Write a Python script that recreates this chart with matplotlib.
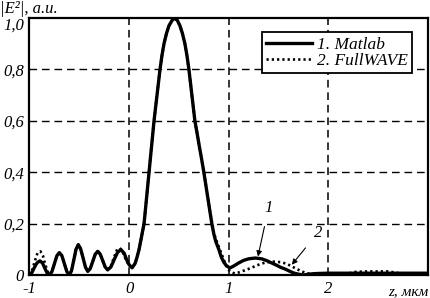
import matplotlib
matplotlib.use("Agg")
import matplotlib.pyplot as plt

plt.rcParams['lines.scale_dashes'] = False

# ---- data ----
x_matlab = [-1.0, -0.975, -0.95, -0.925, -0.896, -0.87, -0.848, -0.825, -0.80,
            -0.775, -0.75, -0.725, -0.70, -0.675, -0.65, -0.625, -0.60,
            -0.578, -0.555, -0.533, -0.51, -0.487, -0.462, -0.438, -0.415,
            -0.39, -0.365, -0.34, -0.315, -0.29, -0.265, -0.24, -0.216,
            -0.183, -0.15, -0.116, -0.083, -0.05, -0.02, 0.0,
            0.03, 0.06, 0.08, 0.10, 0.125, 0.15, 0.175, 0.20, 0.225, 0.25, 0.28, 0.31,
            0.33, 0.35, 0.375, 0.40, 0.43, 0.457, 0.485, 0.51, 0.535, 0.56, 0.58, 0.60,
            0.63, 0.66, 0.683, 0.705, 0.728, 0.75, 0.77, 0.79, 0.81, 0.83, 0.85, 0.87,
            0.90, 0.925, 0.95, 0.975, 1.0, 1.015,
            1.05, 1.10, 1.15, 1.20, 1.267, 1.33, 1.38, 1.43, 1.48, 1.52, 1.567, 1.61,
            1.65, 1.70, 1.75, 1.80, 1.85, 1.90, 2.00, 2.50, 3.00]
y_matlab = [0.0, 0.01, 0.03, 0.047, 0.055, 0.047, 0.028, 0.009, 0.0,
            0.013, 0.044, 0.075, 0.087, 0.075, 0.044, 0.013, 0.0,
            0.017, 0.059, 0.10, 0.118, 0.102, 0.066, 0.03, 0.014,
            0.025, 0.053, 0.081, 0.092, 0.081, 0.056, 0.031, 0.02,
            0.031, 0.06, 0.088, 0.099, 0.085, 0.055, 0.04,
            0.028, 0.045, 0.07, 0.10, 0.15, 0.20, 0.30, 0.40, 0.50, 0.60, 0.70, 0.80,
            0.855, 0.90, 0.94, 0.97, 0.99, 1.0, 0.99, 0.97, 0.94, 0.90, 0.855, 0.80,
            0.70, 0.60, 0.55, 0.50, 0.45, 0.40, 0.35, 0.30, 0.25, 0.20, 0.16, 0.13,
            0.10, 0.07, 0.05, 0.037, 0.03, 0.028,
            0.035, 0.047, 0.057, 0.063, 0.066, 0.063, 0.056, 0.047, 0.038, 0.03, 0.023, 0.015,
            0.008, 0.003, 0.0, 0.003, 0.005, 0.006, 0.007, 0.007, 0.007]

x_fullwave = [-1.0, -0.975, -0.95, -0.92, -0.89, -0.865, -0.845, -0.82, -0.80,
              -0.775, -0.75, -0.725, -0.70, -0.675, -0.65, -0.625, -0.60,
              -0.578, -0.555, -0.533, -0.51, -0.487, -0.462, -0.438, -0.415,
              -0.39, -0.365, -0.34, -0.315, -0.29, -0.265, -0.24, -0.216,
              -0.183, -0.15, -0.12, -0.095, -0.07, -0.045, -0.02, 0.0,
              0.03, 0.06, 0.08, 0.10, 0.125, 0.15, 0.175, 0.20, 0.225, 0.25, 0.28, 0.31,
              0.33, 0.35, 0.375, 0.40, 0.43, 0.457, 0.485, 0.51, 0.535, 0.56, 0.58, 0.60,
              0.63, 0.66, 0.683, 0.705, 0.728, 0.75, 0.77, 0.79, 0.81, 0.835, 0.85, 0.87,
              0.90, 0.925, 0.95, 0.975, 1.0, 1.03, 1.06, 1.10, 1.16, 1.22, 1.30, 1.37,
              1.45, 1.52, 1.58, 1.64, 1.70, 1.77, 1.85, 2.00, 2.10, 2.20, 2.27, 2.40,
              2.60, 2.68, 2.76, 2.85, 2.95, 3.00]
y_fullwave = [0.0, 0.015, 0.05, 0.085, 0.092, 0.075, 0.045, 0.015, 0.0,
              0.013, 0.044, 0.075, 0.087, 0.075, 0.044, 0.013, 0.0,
              0.017, 0.059, 0.10, 0.118, 0.102, 0.066, 0.03, 0.014,
              0.025, 0.053, 0.081, 0.092, 0.081, 0.056, 0.031, 0.02,
              0.035, 0.07, 0.10, 0.105, 0.095, 0.07, 0.05, 0.04,
              0.028, 0.045, 0.07, 0.10, 0.15, 0.20, 0.30, 0.40, 0.50, 0.60, 0.70, 0.80,
              0.855, 0.90, 0.94, 0.97, 0.99, 1.0, 0.99, 0.97, 0.94, 0.90, 0.855, 0.80,
              0.70, 0.60, 0.55, 0.50, 0.45, 0.40, 0.35, 0.30, 0.25, 0.20, 0.165, 0.14,
              0.11, 0.085, 0.06, 0.035, 0.02, 0.01, 0.006, 0.01, 0.018, 0.027, 0.04, 0.049,
              0.052, 0.05, 0.044, 0.032, 0.02, 0.008, 0.002, 0.0, 0.001, 0.006, 0.012, 0.014,
              0.014, 0.009, 0.003, 0.0, 0.002, 0.004]

x_ticks = [-1, 0, 1, 2]
x_ticklabels = ['-1', '0', '1', '2']
y_ticks = [0, 0.2, 0.4, 0.6, 0.8, 1.0]
y_ticklabels = ['0', '0,2', '0,4', '0,6', '0,8', '1,0']
legend_labels = ['1. Matlab', '2. FullWAVE']

FONT = 'Liberation Serif'

fig = plt.figure(figsize=(4.31, 2.98), dpi=100)
ax = fig.add_axes([29.5 / 431, 23 / 298, 398.5 / 431, 257 / 298])

for gx in [0, 1, 2]:
    ax.axvline(gx, color='black', lw=1.1, ls=(0, (5.5, 3.5)), zorder=1)
for gy in [0.2, 0.4, 0.6, 0.8]:
    ax.axhline(gy, color='black', lw=1.0, ls=(0, (5.5, 3.5)), zorder=1)

ax.plot(x_matlab, y_matlab, color='black', lw=2.4, solid_joinstyle='round',
        label=legend_labels[0], zorder=3)
ax.plot(x_fullwave, y_fullwave, color='black', lw=1.9, ls=(0, (1.6, 2.2)),
        label=legend_labels[1], zorder=2)

ax.set_xlim(-1, 3)
ax.set_ylim(0, 1.0)
ax.set_xticks(x_ticks)
ax.set_xticklabels(x_ticklabels)
ax.set_yticks(y_ticks)
ax.set_yticklabels(y_ticklabels)
ax.tick_params(length=0, pad=4)
for lab in ax.get_xticklabels() + ax.get_yticklabels():
    lab.set_fontfamily(FONT)
    lab.set_fontstyle('italic')
    lab.set_fontsize(12)
ax.get_yticklabels()[-1].set_verticalalignment('top')

for s in ax.spines.values():
    s.set_linewidth(1.6)

ax.text(1.0, -0.065, 'z, мкм', transform=ax.transAxes, ha='right', va='center',
        fontfamily=FONT, fontstyle='italic', fontsize=11)
fig.text(0.0, 0.995, '|E²|, a.u.', ha='left', va='top',
         fontfamily=FONT, fontstyle='italic', fontsize=12)

ax.annotate('1', xy=(1.293, 0.072), xytext=(1.40, 0.262), ha='center', va='center',
            fontfamily=FONT, fontstyle='italic', fontsize=12,
            arrowprops=dict(arrowstyle='-|>', color='black', lw=0.8,
                            mutation_scale=8, shrinkA=6, shrinkB=0))
ax.annotate('2', xy=(1.633, 0.04), xytext=(1.893, 0.164), ha='center', va='center',
            fontfamily=FONT, fontstyle='italic', fontsize=12,
            arrowprops=dict(arrowstyle='-|>', color='black', lw=0.8,
                            mutation_scale=8, shrinkA=6, shrinkB=0))

leg = ax.legend(loc='upper right', bbox_to_anchor=(0.96, 0.945),
                prop={'family': FONT, 'style': 'italic', 'size': 12.5},
                frameon=True, fancybox=False, framealpha=1, edgecolor='black',
                handlelength=2.6, borderpad=0.25, labelspacing=0.0, handletextpad=0.3,
                borderaxespad=0)
leg.get_frame().set_linewidth(1.3)

fig.savefig('out.png', dpi=100)
